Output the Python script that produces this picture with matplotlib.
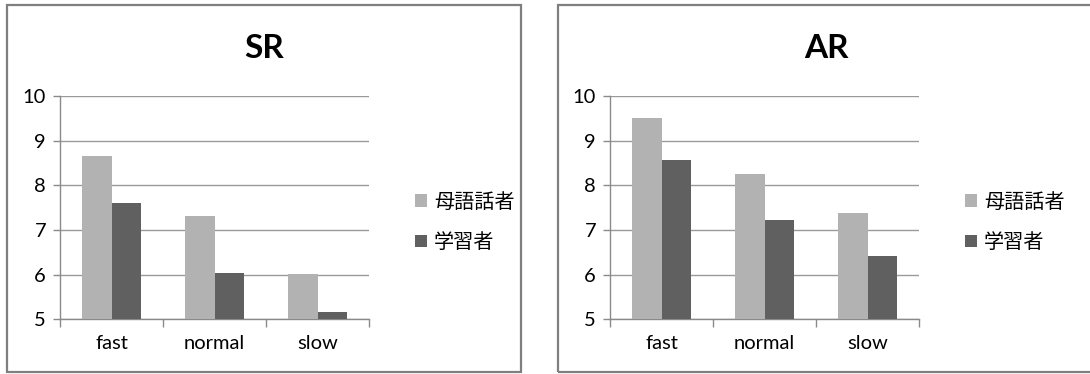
import matplotlib.pyplot as plt
from matplotlib.patches import Rectangle
import numpy as np

plt.rcParams['font.family'] = ['Lato', 'Noto Sans CJK JP', 'DejaVu Sans']

speeds = ['fast', 'normal', 'slow']
series_names = ['母語話者', '学習者']
sr_native = [8.66, 7.32, 6.01]
sr_learner = [7.60, 6.03, 5.16]
ar_native = [9.51, 8.26, 7.39]
ar_learner = [8.57, 7.22, 6.42]

W, H = 1090, 374
fig = plt.figure(figsize=(W / 100, H / 100), dpi=100)

light = '#b2b2b2'
dark = '#606060'
grid_c = '#9a9a9a'
axis_c = '#8a8a8a'


def panel(box, ax_left, title, native, learner, leg_x):
    # outer frame of each chart
    x0, x1 = box
    fig.add_artist(Rectangle((x0 / W, 2 / H), (x1 - x0) / W, (H - 7) / H,
                             transform=fig.transFigure, fill=False,
                             edgecolor='#7f7f7f', linewidth=1.6))
    fig.text((x0 + x1) / 2 / W, 1 - 48 / H, title, fontsize=24,
             fontweight='bold', ha='center', va='center')

    ax = fig.add_axes([ax_left / W, (H - 319.3) / H, 309 / W, 223.3 / H])
    x = np.arange(len(speeds))
    w = 1 / 3.5
    b1 = ax.bar(x - w / 2, np.array(native) - 5, w, bottom=5, color=light,
                label=series_names[0], zorder=3)
    b2 = ax.bar(x + w / 2, np.array(learner) - 5, w, bottom=5, color=dark,
                label=series_names[1], zorder=3)
    ax.set_xlim(-0.5, 2.5)
    ax.set_ylim(5, 10)
    ax.set_yticks(range(5, 11))
    ax.yaxis.grid(True, color=grid_c, linewidth=1.0, zorder=0)
    ax.set_xticks(x)
    ax.set_xticklabels(speeds, fontsize=14.5)
    ax.set_xticks([-0.5, 0.5, 1.5, 2.5], minor=True)
    ax.tick_params(axis='x', which='major', length=0, pad=11)
    ax.tick_params(axis='x', which='minor', length=6, color=axis_c, width=1)
    ax.tick_params(axis='y', length=5, color=axis_c, width=1, labelsize=14.5, pad=5)
    for s in ['top', 'right']:
        ax.spines[s].set_visible(False)
    for s in ['left', 'bottom']:
        ax.spines[s].set_color(axis_c)
        ax.spines[s].set_linewidth(1.0)
    fig.legend([b1, b2], series_names, loc='center left',
               bbox_to_anchor=(leg_x / W, 1 - 222.5 / H), frameon=False,
               handlelength=0.6, handleheight=0.6,
               handletextpad=0.35, labelspacing=0.95,
               prop={'family': ['Noto Sans CJK JP'], 'size': 14.5})


panel((7, 521), 60, 'SR', sr_native, sr_learner, 397)
panel((558, 1095), 610, 'AR', ar_native, ar_learner, 947)

fig.savefig('out.png', dpi=100)
